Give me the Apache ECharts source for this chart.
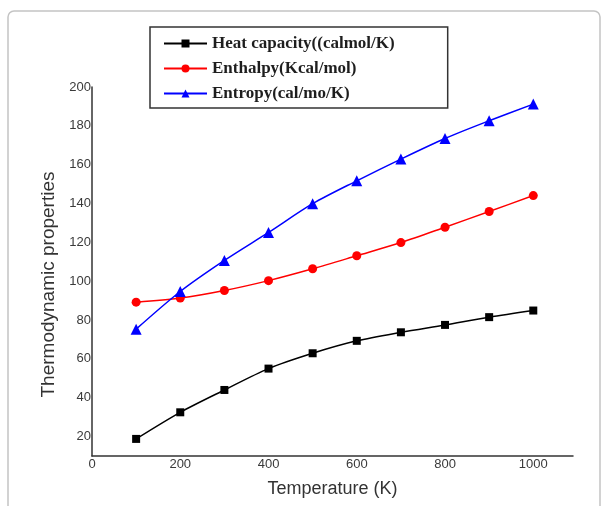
<!DOCTYPE html>
<html>
<head>
<meta charset="utf-8">
<script src="https://cdn.jsdelivr.net/npm/echarts@6/dist/echarts.min.js"></script>
<style>html,body{margin:0;padding:0;background:#fff;}#c{width:602px;height:506px;}</style>
</head>
<body>
<div id="c"></div>
<script>
const temperatures = [100, 200, 300, 400, 500, 600, 700, 800, 900, 1000];
const heatCapacity = [18.8, 32.5, 44.0, 55.0, 62.9, 69.3, 73.7, 77.5, 81.5, 84.9];
const enthalpy = [89.2, 91.3, 95.2, 100.3, 106.4, 113.1, 119.9, 127.8, 135.9, 144.1];
const entropy = [75.3, 94.7, 110.7, 125.1, 139.9, 151.7, 162.9, 173.5, 182.6, 191.2];
const xTickLabels = [0, 200, 400, 600, 800, 1000];
const yTickLabels = [20, 40, 60, 80, 100, 120, 140, 160, 180, 200];
const seriesNames = ['Heat capacity((calmol/K)', 'Enthalpy(Kcal/mol)', 'Entropy(cal/mo/K)'];

const pair = arr => temperatures.map((t, i) => [t, arr[i]]);
const chart = echarts.init(document.getElementById('c'), null, {renderer: 'canvas'});
const labelStyle = {color: '#3a3a3a', fontFamily: 'Liberation Sans', fontSize: 13, formatter: v => String(v)};
chart.setOption({
  animation: false,
  backgroundColor: '#fff',
  graphic: [{
    type: 'rect', shape: {x: 8, y: 11, width: 592, height: 510, r: 6},
    style: {fill: 'none', stroke: '#c4c4c4', lineWidth: 1.5}, silent: true, z: -1
  }],
  grid: {left: 92, right: 29, top: 87, bottom: 50},
  legend: {
    orient: 'vertical', left: 150, top: 27,
    padding: [8, 53, 6, 13], itemGap: 8, itemWidth: 43, itemHeight: 10,
    borderColor: '#333', borderWidth: 1.5, backgroundColor: '#fff',
    textStyle: {fontFamily: 'Liberation Serif', fontWeight: 'bold', fontSize: 17, color: '#1e1e1e', lineHeight: 15},
    data: seriesNames
  },
  xAxis: {
    type: 'value', min: 0, max: 1090,
    name: 'Temperature (K)', nameLocation: 'middle', nameGap: 24,
    nameTextStyle: {fontFamily: 'Liberation Sans', fontSize: 18, color: '#333'},
    axisLine: {show: true, lineStyle: {color: '#333', width: 1.5}},
    axisTick: {show: false},
    splitLine: {show: false},
    axisLabel: {customValues: xTickLabels, margin: 2, ...labelStyle}
  },
  yAxis: {
    type: 'value', min: 10, max: 200,
    name: 'Thermodynamic properties', nameLocation: 'middle', nameGap: 30, nameRotate: 90,
    nameTextStyle: {fontFamily: 'Liberation Sans', fontSize: 19, color: '#333', padding: [0, 26, 0, 0]},
    axisLine: {show: true, lineStyle: {color: '#333', width: 1.5}},
    axisTick: {show: false},
    splitLine: {show: false},
    axisLabel: {customValues: yTickLabels, margin: 1, ...labelStyle}
  },
  series: [
    {name: seriesNames[0], type: 'line', data: pair(heatCapacity), smooth: 0.3,
     symbol: 'rect', symbolSize: 8, color: '#000', lineStyle: {width: 1.5, color: '#000'}},
    {name: seriesNames[1], type: 'line', data: pair(enthalpy), smooth: 0.3,
     symbol: 'circle', symbolSize: 9, color: '#ff0000', lineStyle: {width: 1.5, color: '#ff0000'}},
    {name: seriesNames[2], type: 'line', data: pair(entropy), smooth: 0.3,
     symbol: 'triangle', symbolSize: 11, color: '#0000ff', lineStyle: {width: 1.5, color: '#0000ff'}}
  ]
});
</script>
</body>
</html>
